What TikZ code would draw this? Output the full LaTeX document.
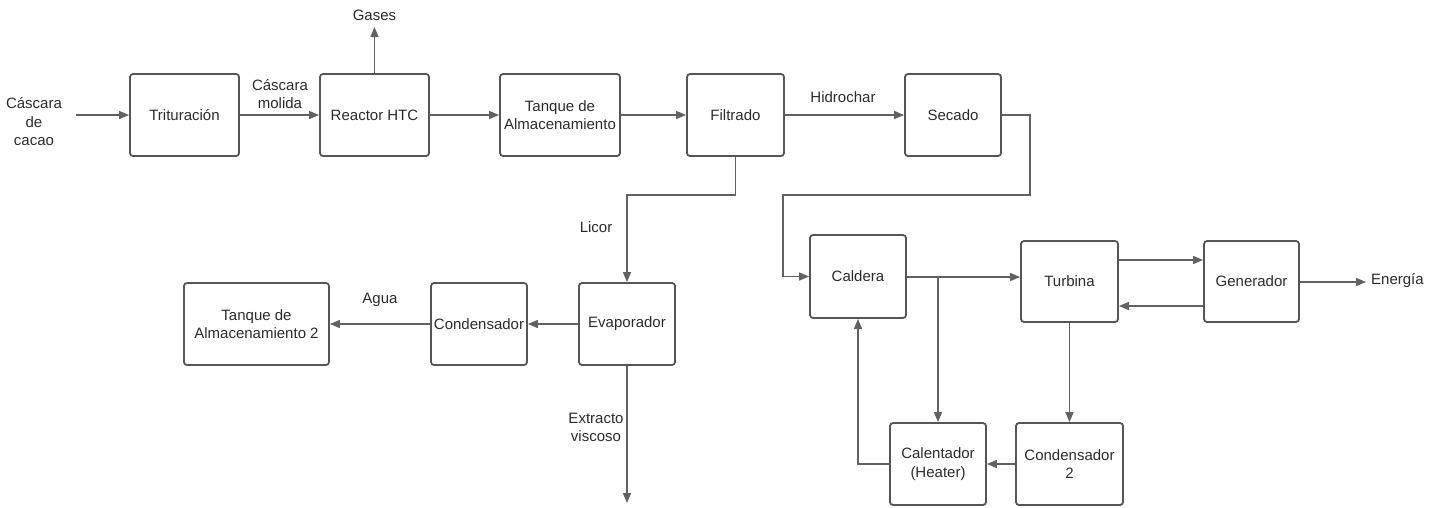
\documentclass[tikz,border=0pt]{standalone}
\usepackage{fontspec}
\setmainfont{Liberation Sans}
\usetikzlibrary{arrows.meta,calc}
\definecolor{linec}{HTML}{616161}
\definecolor{boxc}{HTML}{555555}
\definecolor{txtc}{HTML}{2B2B2B}
\begin{document}
\begin{tikzpicture}[x=1pt,y=-1pt,
  every node/.style={text=txtc,font=\fontsize{15}{18.5}\selectfont},
  procbox/.style={draw=boxc,line width=1.8pt,rounded corners=3pt,align=center,inner sep=1pt},
  flow/.style={draw=linec,line width=1.4pt,-{Triangle[length=10pt,width=8pt]}},
  lbl/.style={align=center,inner sep=1pt}]
\useasboundingbox (0,0) rectangle (1443,507);
% boxes
\node[procbox,minimum width=109,minimum height=82] (trit) at (184.5,115) {Trituración};
\node[procbox,minimum width=109,minimum height=82] (reac) at (374.5,115) {Reactor HTC};
\node[procbox,minimum width=120,minimum height=82] (tanq) at (560,115) {Tanque de\\Almacenamiento};
\node[procbox,minimum width=97,minimum height=82] (filt) at (735.5,115) {Filtrado};
\node[procbox,minimum width=96,minimum height=82] (seca) at (953,115) {Secado};
\node[procbox,minimum width=96,minimum height=83] (cald) at (858,276.5) {Caldera};
\node[procbox,minimum width=97,minimum height=81] (turb) at (1069.5,281.5) {Turbina};
\node[procbox,minimum width=95,minimum height=81] (gene) at (1251.5,281.5) {Generador};
\node[procbox,minimum width=96,minimum height=82] (cale) at (938,464) {Calentador\\(Heater)};
\node[procbox,minimum width=107,minimum height=82] (con2) at (1069.5,464) {Condensador\\2};
\node[procbox,minimum width=96,minimum height=82] (evap) at (627,324) {Evaporador};
\node[procbox,minimum width=96,minimum height=82] (cond) at (479,324) {Condensador};
\node[procbox,minimum width=145,minimum height=82] (tan2) at (256.5,324) {Tanque de\\Almacenamiento 2};
% labels
\node[lbl] (cacao) at (34,122) {Cáscara\\de\\cacao};
\node[lbl] (molida) at (280,94) {Cáscara\\molida};
\node[lbl] (gases) at (374.5,15) {Gases};
\node[lbl] (hidro) at (843,97) {Hidrochar};
\node[lbl] (licor) at (596,227) {Licor};
\node[lbl] (agua) at (380,300) {Agua};
\node[lbl] (extr) at (596,427.5) {Extracto\\viscoso};
\node[lbl,anchor=west] (ener) at (1370,281) {Energía};
% coordinates
\coordinate (inpt) at (76,115);
\coordinate (gtop) at (374.5,27);
\coordinate (sa) at (1030,115);
\coordinate (sb) at (1030,195);
\coordinate (sc) at (783,195);
\coordinate (fa) at (735.5,195);
\coordinate (fb) at (627,195);
\coordinate (eout) at (627,503);
\coordinate (bx) at (938,277);
\coordinate (enr) at (1366,282);
% connectors
\draw[flow] (inpt) -- (trit.west);
\draw[flow] (trit.east) -- (reac.west);
\draw[flow] (reac.north) -- (gtop);
\draw[flow] (reac.east) -- (tanq.west);
\draw[flow] (tanq.east) -- (filt.west);
\draw[flow] (filt.east) -- (seca.west);
\draw[flow] (seca.east) -- (sa) -- (sb) -- (sc) -- (sc |- cald.west) -- (cald.west);
\draw[flow] (filt.south) -- (fa) -- (fb) -- (evap.north);
\draw[flow] (evap.west) -- (cond.east);
\draw[flow] (cond.west) -- (tan2.east);
\draw[flow] (evap.south) -- (eout);
\draw[flow] (cald.east |- bx) -- (turb.west |- bx);
\draw[flow] (bx) -- (cale.north);
\draw[flow] (turb.east |- 0,260) -- (gene.west |- 0,260);
\draw[flow] (gene.west |- 0,306) -- (turb.east |- 0,306);
\draw[flow] (gene.east |- enr) -- (enr);
\draw[flow] (turb.south) -- (con2.north);
\draw[flow] (con2.west) -- (cale.east);
\draw[flow] (cale.west) -- (cale.west -| cald.south) -- (cald.south);
\end{tikzpicture}
\end{document}
